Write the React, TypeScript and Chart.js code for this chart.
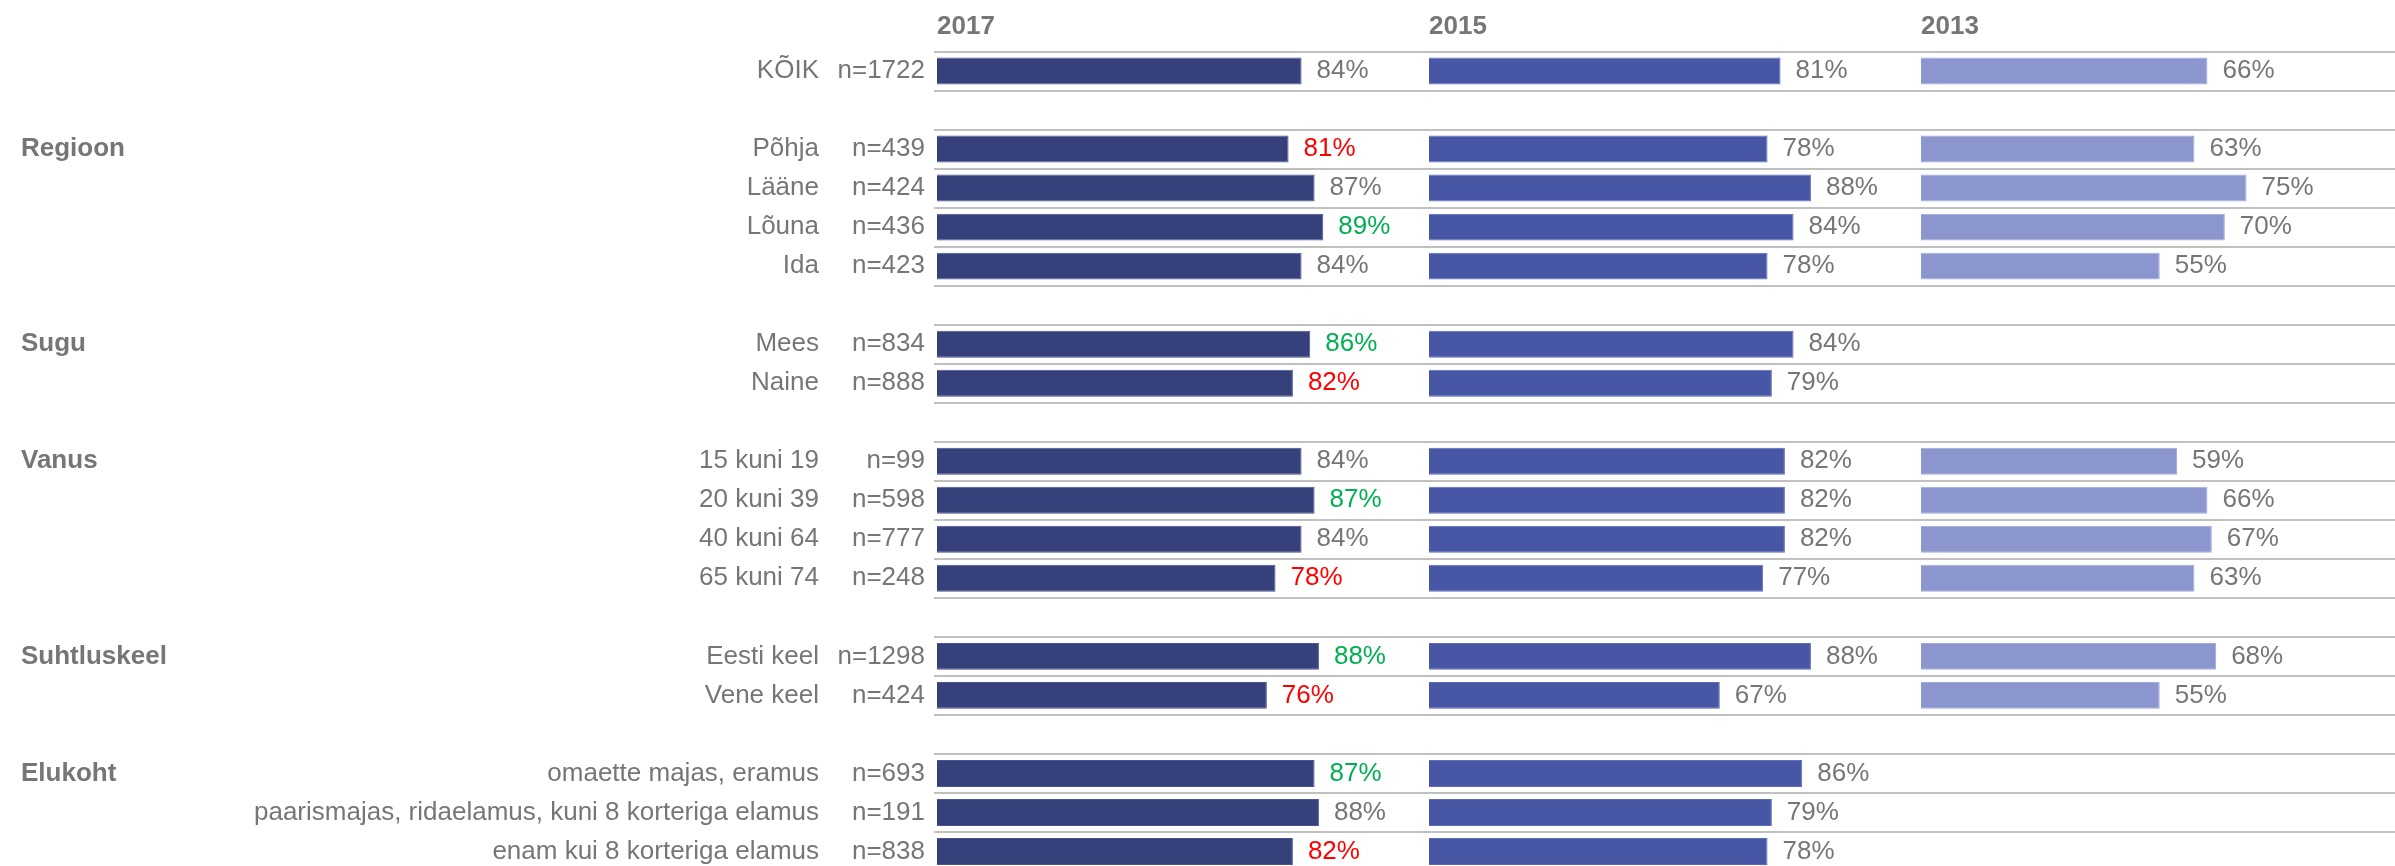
import { useEffect, useRef } from 'react';
import { Chart, registerables } from 'chart.js';

Chart.register(...registerables);

const groupLabels = ['', '', 'Regioon', '', '', '', '', 'Sugu', '', '', 'Vanus', '', '', '', '', 'Suhtluskeel', '', '', 'Elukoht', '', ''];
const categories = ['KÕIK', '', 'Põhja', 'Lääne', 'Lõuna', 'Ida', '', 'Mees', 'Naine', '', '15 kuni 19', '20 kuni 39', '40 kuni 64', '65 kuni 74', '', 'Eesti keel', 'Vene keel', '', 'omaette majas, eramus', 'paarismajas, ridaelamus, kuni 8 korteriga elamus', 'enam kui 8 korteriga elamus'];
const sampleSizes = ['n=1722', '', 'n=439', 'n=424', 'n=436', 'n=423', '', 'n=834', 'n=888', '', 'n=99', 'n=598', 'n=777', 'n=248', '', 'n=1298', 'n=424', '', 'n=693', 'n=191', 'n=838'];
const years = ['2017', '2015', '2013'];
const values2017 = [84, null, 81, 87, 89, 84, null, 86, 82, null, 84, 87, 84, 78, null, 88, 76, null, 87, 88, 82];
const values2015 = [81, null, 78, 88, 84, 78, null, 84, 79, null, 82, 82, 82, 77, null, 88, 67, null, 86, 79, 78];
const values2013 = [66, null, 63, 75, 70, 55, null, null, null, null, 59, 66, 67, 63, null, 68, 55, null, null, null, null];
const change2017 = ['', '', 'down', '', 'up', '', '', 'up', 'down', '', '', 'up', '', 'down', '', 'up', 'down', '', 'up', '', 'down'];

const FONT = '"Liberation Sans", Arial, sans-serif';
const GREY = '#767676';

const valueLabels = {
  id: 'valueLabels',
  afterDatasetsDraw(chart: any) {
    const ctx = chart.ctx;
    ctx.save();
    ctx.font = `26px ${FONT}`;
    ctx.textBaseline = 'middle';
    ctx.textAlign = 'left';
    chart.data.datasets.forEach((ds: any, di: number) => {
      const meta = chart.getDatasetMeta(di);
      meta.data.forEach((el: any, i: number) => {
        const v = ds.data[i];
        if (v == null) return;
        const flag = ds.changes ? ds.changes[i] : '';
        ctx.fillStyle = flag === 'up' ? '#00B050' : flag === 'down' ? '#FF0000' : GREY;
        ctx.fillText(`${v}%`, el.x + 15, el.y);
      });
    });
    ctx.restore();
  },
};

const noPad = (width: number) => (s: any) => {
  s.width = width;
  s.paddingTop = 0;
  s.paddingBottom = 0;
};

function xAxis(title: string, order: number, weight: number, max: number) {
  return {
    type: 'linear',
    position: 'top',
    stack: 'cols',
    stackWeight: weight,
    weight: order,
    min: 0,
    max,
    ticks: { display: false },
    grid: { display: false, drawTicks: false },
    border: { display: false },
    title: {
      display: true,
      text: title,
      align: 'start',
      color: GREY,
      font: { family: FONT, size: 26, weight: 'bold', lineHeight: 1.2 },
      padding: { top: 11.4, bottom: 8.9 },
    },
    afterFit: (s: any) => { s.paddingLeft = 0; s.paddingRight = 0; },
  };
}

export default function App() {
  const ref = useRef<HTMLCanvasElement>(null);
  useEffect(() => {
    if (!ref.current) return;
    const commonBar = { grouped: false, barPercentage: 0.69, categoryPercentage: 1, borderWidth: 1, yAxisID: 'yN' };
    const chart = new Chart(ref.current, {
      type: 'bar',
      data: {
        labels: sampleSizes,
        datasets: [
          { ...commonBar, label: years[0], data: values2017, xAxisID: 'x17', backgroundColor: '#36407A', borderColor: '#4A5494', changes: change2017 } as any,
          { ...commonBar, label: years[1], data: values2015, xAxisID: 'x15', backgroundColor: '#4856A6', borderColor: '#5E6BB8' } as any,
          { ...commonBar, label: years[2], data: values2013, xAxisID: 'x13', backgroundColor: '#8A96CD', borderColor: '#A0AADB' } as any,
        ],
      },
      options: {
        indexAxis: 'y',
        responsive: false,
        animation: false,
        layout: { padding: { left: 21, right: 0, top: 0, bottom: 0 } },
        plugins: { legend: { display: false }, tooltip: { enabled: false }, title: { display: false } },
        scales: {
          x17: xAxis(years[0], 3, 492, 113.36),
          x15: xAxis(years[1], 2, 492, 113.36),
          x13: xAxis(years[2], 1, 474, 109.2),
          yG: {
            type: 'category',
            position: 'left',
            weight: 3,
            labels: groupLabels,
            offset: true,
            grid: { display: false, drawTicks: false },
            border: { display: false },
            ticks: { autoSkip: false, crossAlign: 'far', padding: 0, color: GREY, font: { family: FONT, size: 26, weight: 'bold' } },
            afterFit: noPad(209),
          },
          yC: {
            type: 'category',
            position: 'left',
            weight: 2,
            labels: categories,
            offset: true,
            grid: { display: false, drawTicks: false },
            border: { display: false },
            ticks: { autoSkip: false, padding: 11, color: GREY, font: { family: FONT, size: 26 } },
            afterFit: noPad(600),
          },
          yN: {
            type: 'category',
            position: 'left',
            weight: 1,
            labels: sampleSizes,
            offset: true,
            grid: { display: true, offset: true, color: '#C0C0C0', lineWidth: 2, drawTicks: true, tickLength: 3 },
            border: { display: false },
            ticks: { autoSkip: false, padding: 9, color: GREY, font: { family: FONT, size: 26 } },
            afterFit: noPad(107),
          },
        } as any,
      },
      plugins: [valueLabels],
    });
    return () => chart.destroy();
  }, []);
  return (
    <div style={{ position: 'fixed', left: 0, top: 0, width: 2395, height: 871, background: '#fff' }}>
      <canvas ref={ref} width={2395} height={871} />
    </div>
  );
}
